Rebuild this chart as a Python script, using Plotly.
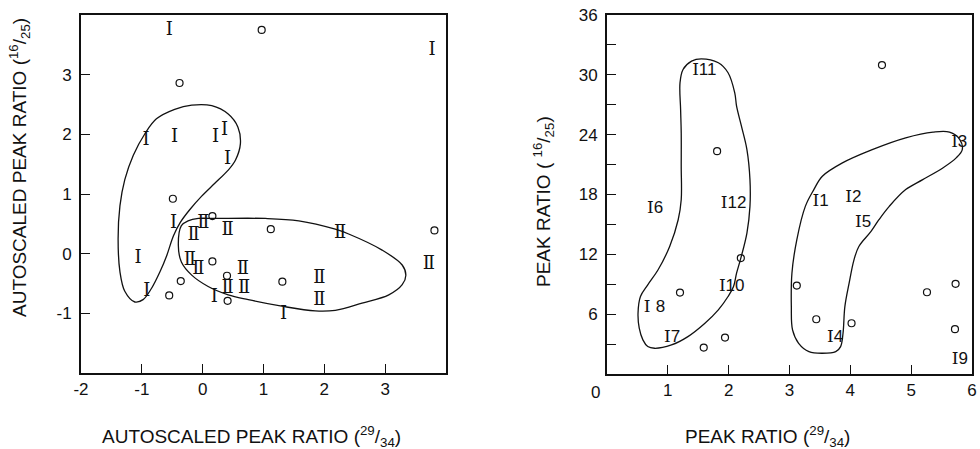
import plotly.graph_objects as go

# ---------------- Left panel data (autoscaled) ----------------
typeI_x = [-0.55, 3.77, -0.93, -0.46, 0.21, 0.36, 0.41, -0.48, -1.06, -0.92, 0.19, 1.33]
typeI_y = [3.74, 3.41, 1.90, 1.94, 1.94, 2.07, 1.57, 0.50, -0.08, -0.63, -0.73, -1.02]

typeII_x = [0.01, -0.15, 0.41, 2.26, -0.21, -0.07, 0.66, 0.41, 0.68, 1.92, 1.92, 3.72]
typeII_y = [0.50, 0.30, 0.39, 0.33, -0.11, -0.26, -0.26, -0.58, -0.58, -0.41, -0.79, -0.18]

circ_left_x = [0.97, -0.38, -0.49, 0.16, 1.12, 3.81, 0.16, 0.40, -0.36, 1.31, -0.55, 0.41]
circ_left_y = [3.75, 2.86, 0.92, 0.63, 0.41, 0.39, -0.13, -0.37, -0.46, -0.47, -0.70, -0.79]

regionI_x = [-1.115, -1.28, -1.36, -1.39, -1.36, -1.28, -1.14, -0.95, -0.76, -0.46, -0.18, 0.15,
             0.42, 0.58, 0.62, 0.54, 0.42, 0.20, -0.02, -0.21, -0.37, -0.48, -0.59, -0.70,
             -0.84, -0.98, -1.115]
regionI_y = [-0.81, -0.63, -0.30, 0.25, 0.80, 1.24, 1.65, 2.01, 2.26, 2.42, 2.49, 2.48,
             2.34, 2.12, 1.84, 1.57, 1.40, 1.18, 0.96, 0.74, 0.52, 0.30, -0.03, -0.30,
             -0.58, -0.77, -0.81]

regionII_x = [-0.35, -0.40, -0.35, -0.18, 0.09, 0.42, 0.75, 1.30, 1.85, 2.18, 2.62, 3.06,
              3.28, 3.34, 3.28, 2.95, 2.40, 2.18, 1.58, 1.03, 0.20, -0.07, -0.24, -0.35]
regionII_y = [0.47, 0.14, -0.14, -0.36, -0.55, -0.69, -0.77, -0.88, -0.96, -0.95, -0.83, -0.69,
              -0.52, -0.36, -0.19, 0.06, 0.33, 0.41, 0.55, 0.59, 0.59, 0.59, 0.55, 0.47]

left_xticks = [-2, -1, 0, 1, 2, 3]
left_xticktext = ["-2", "-1", "0", "1", "2", "3"]
left_yticks = [-1, 0, 1, 2, 3]
left_yticktext = ["-1", "0", "1", "2", "3"]

# ---------------- Right panel data (raw peak ratios) ----------------
iso_prefix = ["I", "I", "I", "I", "I ", "I", "I", "I", "I", "I", "I", "I"]
iso_num = ["11", "6", "12", "10", "8", "7", "1", "2", "5", "3", "4", "9"]
iso_x = [1.60, 0.79, 2.08, 2.05, 0.78, 1.07, 3.51, 4.05, 4.21, 5.79, 3.75, 5.80]
iso_y = [30.37, 16.54, 17.08, 8.71, 6.60, 3.68, 17.25, 17.65, 15.20, 23.24, 3.68, 1.47]

circ_right_x = [4.52, 1.81, 2.20, 1.20, 3.12, 5.26, 5.73, 3.44, 4.02, 5.72, 1.94, 1.59]
circ_right_y = [30.98, 22.34, 11.62, 8.17, 8.87, 8.20, 9.04, 5.49, 5.09, 4.49, 3.65, 2.65]

regionA_x = [1.55, 1.83, 1.99, 2.10, 2.13, 2.21, 2.30, 2.35, 2.35, 2.30, 2.20, 2.13, 2.08, 1.99,
             1.83, 1.61, 1.33, 1.06, 0.78, 0.67, 0.59, 0.53, 0.51, 0.55, 0.67, 0.84, 1.03, 1.17,
             1.22, 1.22, 1.22, 1.21, 1.20, 1.25, 1.39, 1.55]
regionA_y = [31.61, 31.21, 30.21, 28.20, 26.86, 24.85, 22.51, 19.49, 16.81, 14.13, 11.62, 10.11,
             8.77, 7.77, 6.43, 5.09, 3.75, 2.91, 2.58, 2.75, 3.42, 4.59, 6.10, 7.77, 8.94, 10.45,
             12.79, 15.47, 17.48, 20.83, 24.18, 26.52, 29.20, 30.54, 31.38, 31.61]

regionB_x = [3.40, 3.54, 3.87, 4.36, 4.91, 5.36, 5.63, 5.80, 5.84, 5.74, 5.52, 5.19, 4.91, 4.64,
             4.47, 4.34, 4.14, 4.06, 3.98, 3.91, 3.88, 3.84, 3.76, 3.54, 3.32, 3.15, 3.05, 3.03,
             3.04, 3.12, 3.26, 3.40]
regionB_y = [18.49, 19.83, 21.17, 22.50, 23.68, 24.25, 24.25, 23.51, 22.50, 21.67, 20.66, 19.49,
             18.49, 16.81, 15.47, 14.30, 12.79, 11.45, 9.11, 6.76, 4.09, 2.75, 2.24, 2.08, 2.24,
             3.08, 4.42, 6.76, 10.11, 13.46, 16.81, 18.49]

right_xticks = [1, 2, 3, 4, 5, 6]
right_xticktext = ["1", "2", "3", "4", "5", "6"]
right_yticks = [6, 12, 18, 24, 30, 36]
right_yticktext = ["6", "12", "18", "24", "30", "36"]
right_yminor = [3, 9, 15, 21, 27, 33]

SERIF = "DejaVu Serif"
SANS = "Liberation Sans"
INK = "#111111"

fig = go.Figure()

line_style = dict(color=INK, width=1.3, shape="spline", smoothing=1.0)

# Left panel
fig.add_trace(go.Scatter(x=regionI_x, y=regionI_y, mode="lines", line=line_style,
                         xaxis="x", yaxis="y", hoverinfo="skip"))
fig.add_trace(go.Scatter(x=regionII_x, y=regionII_y, mode="lines", line=line_style,
                         xaxis="x", yaxis="y", hoverinfo="skip"))
fig.add_trace(go.Scatter(x=typeI_x, y=typeI_y, mode="text", text=["I"] * len(typeI_x),
                         textfont=dict(family=SERIF, size=18, color=INK),
                         xaxis="x", yaxis="y", cliponaxis=False))
fig.add_trace(go.Scatter(x=typeII_x, y=typeII_y, mode="text", text=["\u2161"] * len(typeII_x),
                         textfont=dict(family=SERIF, size=18, color=INK),
                         xaxis="x", yaxis="y", cliponaxis=False))
fig.add_trace(go.Scatter(x=circ_left_x, y=circ_left_y, mode="markers",
                         marker=dict(symbol="circle-open", size=7, color=INK, line=dict(width=1.2)),
                         xaxis="x", yaxis="y", cliponaxis=False))

# Right panel
iso_text = [p + '<span style="font-family:Liberation Sans">' + n + "</span>"
            for p, n in zip(iso_prefix, iso_num)]
fig.add_trace(go.Scatter(x=regionA_x, y=regionA_y, mode="lines", line=line_style,
                         xaxis="x2", yaxis="y2", hoverinfo="skip"))
fig.add_trace(go.Scatter(x=regionB_x, y=regionB_y, mode="lines", line=line_style,
                         xaxis="x2", yaxis="y2", hoverinfo="skip"))
fig.add_trace(go.Scatter(x=iso_x, y=iso_y, mode="text", text=iso_text,
                         textfont=dict(family=SERIF, size=17, color=INK),
                         xaxis="x2", yaxis="y2", cliponaxis=False))
fig.add_trace(go.Scatter(x=circ_right_x, y=circ_right_y, mode="markers",
                         marker=dict(symbol="circle-open", size=7, color=INK, line=dict(width=1.2)),
                         xaxis="x2", yaxis="y2", cliponaxis=False))

axis_common = dict(showgrid=False, zeroline=False, showline=True, linecolor=INK, linewidth=2,
                   mirror=True, ticks="inside", ticklen=9, tickwidth=1.2, tickcolor=INK,
                   automargin=False,
                   tickfont=dict(family=SANS, size=17, color=INK))

fig.update_layout(
    template="none",
    width=980, height=449,
    margin=dict(l=0, r=0, t=0, b=0, pad=0),
    paper_bgcolor="white", plot_bgcolor="white",
    showlegend=False,
    xaxis=dict(domain=[81 / 980, 446 / 980], range=[-2, 4], tickmode="array",
               tickvals=left_xticks, ticktext=left_xticktext, anchor="y", **axis_common),
    yaxis=dict(domain=[1 - 373 / 449, 1 - 15 / 449], range=[-2, 4], tickmode="array",
               tickvals=left_yticks, ticktext=left_yticktext, anchor="x",
               ticklabelstandoff=4, **axis_common),
    xaxis2=dict(domain=[607 / 980, 972 / 980], range=[0, 6], tickmode="array",
                tickvals=right_xticks, ticktext=right_xticktext, anchor="y2", **axis_common),
    yaxis2=dict(domain=[1 - 374 / 449, 1 - 15 / 449], range=[0, 36], tickmode="array",
                tickvals=right_yticks, ticktext=right_yticktext, anchor="x2",
                ticklabelstandoff=4,
                minor=dict(tickvals=right_yminor, ticks="inside", ticklen=9, tickwidth=1.2,
                           tickcolor=INK),
                **axis_common),
)

ann_font = dict(family=SANS, size=17, color=INK)
fig.add_annotation(x=595 / 980, y=1 - 392 / 449, xref="paper", yref="paper", text="0",
                   showarrow=False, xanchor="center", yanchor="middle", font=ann_font)

title_font = dict(family=SANS, size=19, color=INK)
fig.add_annotation(x=251 / 980, y=1 - 436 / 449, xref="paper", yref="paper",
                   text="AUTOSCALED PEAK RATIO (<sup>29</sup>/<sub>34</sub>)",
                   showarrow=False, font=title_font, xanchor="center", yanchor="middle")
fig.add_annotation(x=767 / 980, y=1 - 436 / 449, xref="paper", yref="paper",
                   text="PEAK RATIO (<sup>29</sup>/<sub>34</sub>)",
                   showarrow=False, font=title_font, xanchor="center", yanchor="middle")
fig.add_annotation(x=19 / 980, y=1 - 168 / 449, xref="paper", yref="paper",
                   text="AUTOSCALED PEAK RATIO (<sup>16</sup>/<sub>25</sub>)",
                   showarrow=False, font=title_font, textangle=-90,
                   xanchor="center", yanchor="middle")
fig.add_annotation(x=543 / 980, y=1 - 202 / 449, xref="paper", yref="paper",
                   text="PEAK RATIO ( <sup>16</sup>/<sub>25</sub>)",
                   showarrow=False, font=title_font, textangle=-90,
                   xanchor="center", yanchor="middle")

fig.write_html(
    "out.html",
    config=dict(displayModeBar=False),
    post_script="document.body.style.margin='0';document.body.style.overflow='hidden';",
)
